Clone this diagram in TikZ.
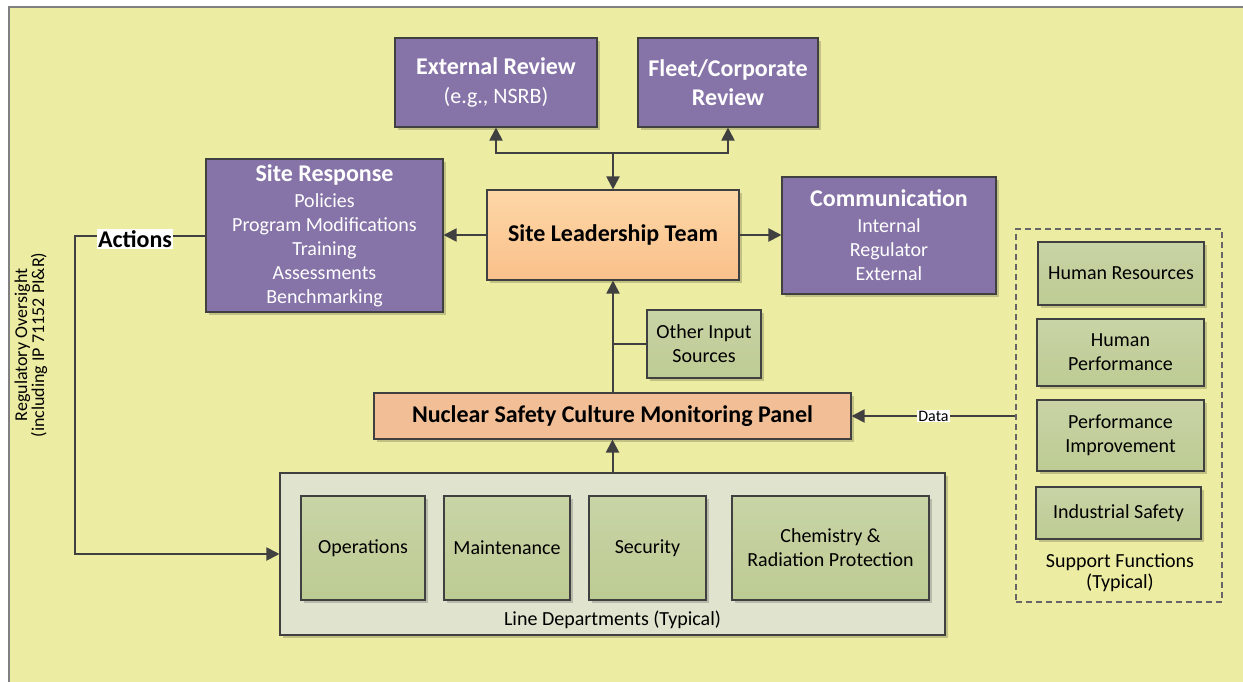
\documentclass[tikz,border=0pt]{standalone}
\usepackage{fontspec}
\setmainfont{Carlito}
\usetikzlibrary{arrows.meta,shadows,calc}
\definecolor{bgy}{RGB}{236,236,162}
\definecolor{purp}{RGB}{134,116,168}
\definecolor{edge}{RGB}{64,64,64}
\definecolor{sltTop}{RGB}{253,215,166}
\definecolor{sltBot}{RGB}{249,192,138}
\definecolor{panel}{RGB}{242,190,150}
\definecolor{grnTop}{RGB}{200,212,166}
\definecolor{grnBot}{RGB}{189,203,147}
\definecolor{linebg}{RGB}{224,227,205}
\tikzset{
  box/.style={draw=edge, line width=1.1pt, inner sep=0pt, align=center,
    drop shadow={shadow xshift=3pt, shadow yshift=-3pt, opacity=0.18, fill=black}},
  purpbox/.style={box, fill=purp, text=white, font=\fontsize{20}{24}\selectfont},
  grnbox/.style={box, top color=grnTop, bottom color=grnBot, font=\fontsize{20}{24}\selectfont},
  arr/.style={draw=edge, line width=2pt, -{Triangle[length=13pt,width=13pt]}},
  conn/.style={draw=edge, line width=2pt},
}
\begin{document}
\begin{tikzpicture}[x=1pt,y=-1pt]
\useasboundingbox (0,0) rectangle (1243,682);
\fill[white] (0,0) rectangle (1243,682);
\fill[bgy] (9,7) rectangle (1243,682);
\draw[gray, line width=1.2pt] (9,682) -- (9,7) -- (1243,7);

% top reviews
\node[purpbox, minimum width=202pt, minimum height=89pt, font=\fontsize{22}{29}\selectfont] (ext) at (496,82.5)
  {{\fontsize{24}{29}\selectfont\bfseries External Review}\\(e.g., NSRB)};
\node[purpbox, minimum width=180pt, minimum height=89pt, font=\fontsize{24}{29}\selectfont\bfseries] (fleet) at (728,82.5)
  {Fleet/Corporate\\Review};

% site response
\node[purpbox, minimum width=237pt, minimum height=153pt] (sr) at (324.5,235.5)
  {{\fontsize{24}{27}\selectfont\bfseries Site Response}\\[2pt]Policies\\Program Modifications\\Training\\Assessments\\Benchmarking};

% site leadership team
\node[box, top color=sltTop, bottom color=sltBot, minimum width=252pt, minimum height=90pt,
  font=\fontsize{24}{28}\selectfont\bfseries] (slt) at (613,235) {Site Leadership Team};

% communication
\node[purpbox, minimum width=214pt, minimum height=117pt] (comm) at (889,235.5)
  {{\fontsize{24}{27}\selectfont\bfseries Communication}\\[2pt]Internal\\Regulator\\External};

% other input sources
\node[grnbox, minimum width=114pt, minimum height=68pt] (other) at (704,344)
  {Other Input\\Sources};

% monitoring panel
\node[box, fill=panel, minimum width=477pt, minimum height=46pt,
  font=\fontsize{24}{28}\selectfont\bfseries] (nscmp) at (612.5,416)
  {Nuclear Safety Culture Monitoring Panel};

% line departments
\node[box, fill=linebg, minimum width=665pt, minimum height=162pt] (line) at (612.5,554) {};
\node[grnbox, minimum width=124pt, minimum height=104pt] (ops) at (363,548) {Operations};
\node[grnbox, minimum width=126pt, minimum height=104pt] (maint) at (507,548) {Maintenance};
\node[grnbox, minimum width=117pt, minimum height=104pt] (sec) at (647.5,548) {Security};
\node[grnbox, minimum width=197pt, minimum height=104pt] (chem) at (830.5,548)
  {Chemistry \&\\Radiation Protection};
\node[font=\fontsize{20}{24}\selectfont] (linelbl) at (612.5,620) {Line Departments (Typical)};

% support functions
\node[draw=edge!80, dash pattern=on 6pt off 4pt, line width=1.2pt, minimum width=206pt, minimum height=373pt, inner sep=0pt] (sup) at (1119,415.5) {};
\node[grnbox, minimum width=166pt, minimum height=63pt] (hr) at (1121,273.5) {Human Resources};
\node[grnbox, minimum width=167pt, minimum height=67pt] (hp) at (1120.5,352.5) {Human\\Performance};
\node[grnbox, minimum width=167pt, minimum height=71pt] (pi) at (1120.5,435.5) {Performance\\Improvement};
\node[grnbox, minimum width=165pt, minimum height=52pt] (is) at (1118.5,513) {Industrial Safety};
\node[font=\fontsize{20}{21}\selectfont, align=center] (suplbl) at (1120,573) {Support Functions\\(Typical)};

% regulatory oversight
\node[rotate=90, align=center, font=\fontsize{18}{17}\selectfont] (reg) at (31,345)
  {Regulatory Oversight\\(including IP 71152 PI\&R)};

% connectors
\coordinate (jn) at (613,153);
\draw[arr] (jn) -- (slt.north);
\draw[arr] (jn) -| (ext.south);
\draw[arr] (jn) -| (fleet.south);
\draw[arr] (slt.west) -- (slt.west -| sr.east);
\draw[arr] (slt.east) -- (slt.east -| comm.west);
\draw[arr] (nscmp.north -| slt.south) -- (slt.south);
\draw[conn] (other.west) -- (other.west -| slt.south);
\draw[arr] (line.north -| nscmp.south) -- (nscmp.south);
\draw[arr] (sup.west |- nscmp.east) -- (nscmp.east)
  node[midway, fill=white, inner sep=1pt, text=black, font=\fontsize{16}{18}\selectfont] (data) {Data};

\coordinate (c1) at (75,236);
\coordinate (c2) at (75,554);
\draw[arr] (sr.west |- c1) -- (c1) -- (c2) -- (c2 -| line.west);
\node[fill=white, inner sep=1pt, font=\fontsize{24}{28}\selectfont\bfseries] (act) at (135,239) {Actions};
\end{tikzpicture}
\end{document}
